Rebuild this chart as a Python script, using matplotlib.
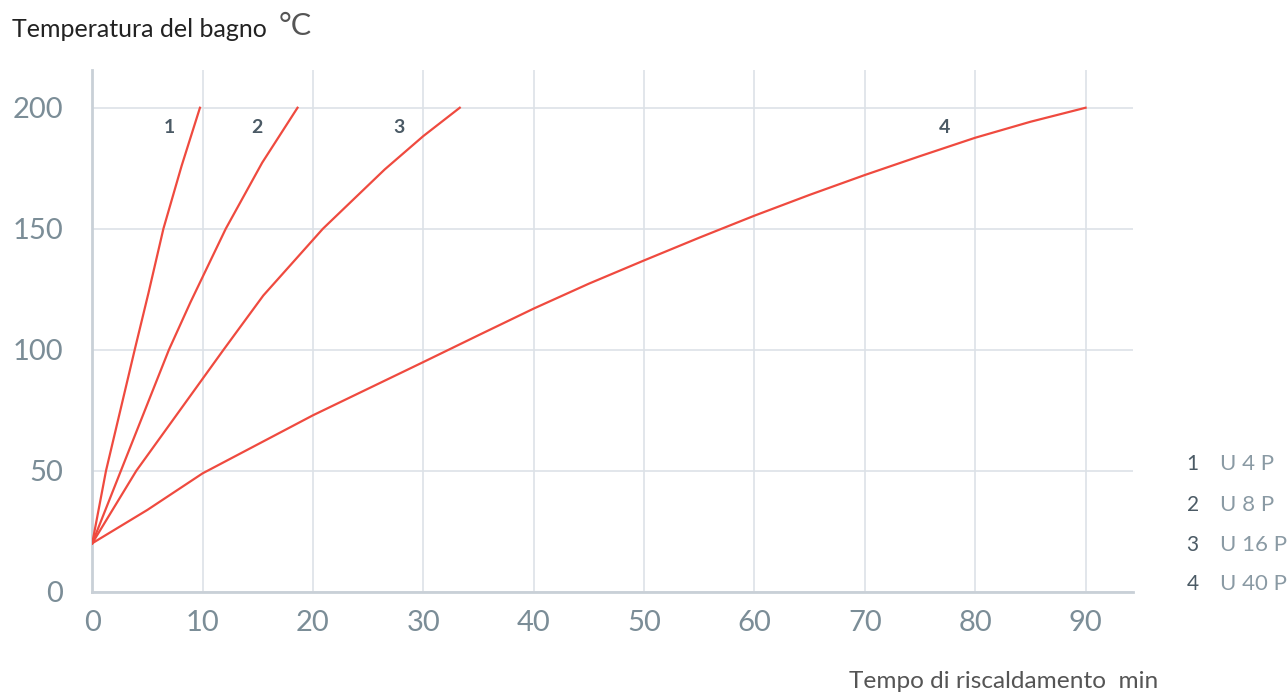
import matplotlib
matplotlib.use("Agg")
from matplotlib import pyplot as plt

plt.rcParams["font.family"] = ["Lato", "DejaVu Sans"]

# heating curves (minutes, deg C)
t1 = [0, 1.25, 3.85, 5.1, 6.45, 8.1, 9.76]
temp1 = [20, 50, 100, 123.5, 150, 176, 200]
t2 = [0, 2.6, 6.95, 8.9, 12.1, 15.4, 18.6]
temp2 = [20, 50, 100, 119.6, 150, 177.3, 200]
t3 = [0, 4.0, 11.9, 15.5, 20.9, 26.5, 30.0, 33.3]
temp3 = [20, 50, 100, 122.4, 150, 174.5, 188.3, 200]
t4 = [0, 5, 10, 20, 30, 35, 40, 45, 50, 55, 60, 65, 70, 75, 80, 85, 90]
temp4 = [20, 33.8, 48.9, 72.9, 94.9, 106, 117, 127.3, 136.9, 146.3, 155.4,
         164, 172.2, 180, 187.6, 194.2, 200]

curve_ids = ["1", "2", "3", "4"]
curve_names = ["U 4 P", "U 8 P", "U 16 P", "U 40 P"]
label_x = [7.0, 14.9, 27.8, 77.2]

xticks = [0, 10, 20, 30, 40, 50, 60, 70, 80, 90]
yticks = [0, 50, 100, 150, 200]

red = "#ef4a3f"
grid_c = "#dde2e7"
spine_c = "#c9d0d7"
tick_c = "#7b8d97"
num_c = "#4b5a65"

fig = plt.figure(figsize=(12.88, 6.93), dpi=100)
ax = fig.add_axes([0.0716, 0.1462, 0.8081, 0.7528])

for xs, ys in [(t1, temp1), (t2, temp2), (t3, temp3), (t4, temp4)]:
    ax.plot(xs, ys, color=red, lw=1.6, solid_joinstyle="round", zorder=3)

for cid, lx in zip(curve_ids, label_x):
    ax.text(lx, 192, cid, color=num_c, fontsize=14, fontweight="bold",
            ha="center", va="center")

ax.set_xlim(0, 94.3)
ax.set_ylim(0, 215.6)
ax.set_xticks(xticks)
ax.set_yticks(yticks)
ax.set_xticklabels([str(v) for v in xticks])
ax.set_yticklabels([str(v) for v in yticks])
ax.tick_params(length=0, labelsize=21, colors=tick_c, pad=13)
ax.tick_params(axis="y", pad=21)
ax.grid(True, color=grid_c, lw=1.2)
ax.set_axisbelow(True)
for s in ["top", "right"]:
    ax.spines[s].set_visible(False)
for s in ["left", "bottom"]:
    ax.spines[s].set_color(spine_c)
    ax.spines[s].set_linewidth(2)

fig.text(0.009, 0.958, "Temperatura del bagno", fontsize=18, color="#222222",
         ha="left", va="center")
fig.text(0.2165, 0.962, "°C", fontsize=22, color="#555555", ha="left", va="center")
fig.text(0.659, 0.016, "Tempo di riscaldamento  min", fontsize=17.6, color="#555555",
         ha="left", va="center")

leg_y = [0.330, 0.271, 0.213, 0.157]
for cid, name, ly in zip(curve_ids, curve_names, leg_y):
    fig.text(0.926, ly, cid, fontsize=15, color=num_c, ha="center", va="center")
    fig.text(0.947, ly, name, fontsize=16, color="#8a9aa4", ha="left", va="center")

fig.savefig("out.png", dpi=100)
